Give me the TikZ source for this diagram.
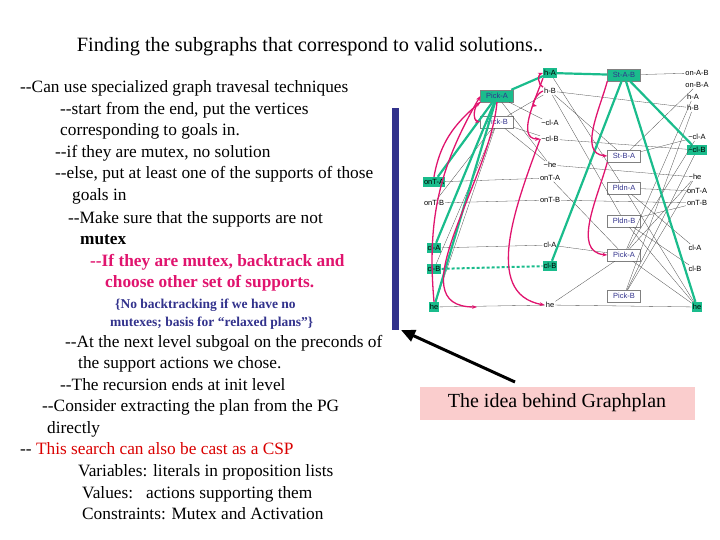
\documentclass[tikz,border=0pt]{standalone}
\usepackage{fontspec}
\setmainfont{Liberation Serif}
\newfontfamily\gsans{Liberation Sans}
\usetikzlibrary{arrows.meta,calc}
\definecolor{tgreen}{RGB}{26,188,140}
\definecolor{mag}{RGB}{224,20,110}
\definecolor{navy}{RGB}{50,50,140}
\definecolor{pinkbg}{RGB}{250,205,205}
\newcommand{\dd}{-{}-}
\tikzset{
  txt/.style={anchor=base west, inner sep=0pt, font=\fontsize{17.3}{19}\selectfont},
  btxt/.style={txt, font=\fontsize{17.3}{19}\selectfont\bfseries},
  lit/.style={font=\gsans\fontsize{7.5}{8}\selectfont, inner sep=1pt},
  glit/.style={lit, fill=tgreen, minimum height=10pt},
  act/.style={lit, draw=gray, text=navy, minimum width=33pt, minimum height=12pt},
  gact/.style={act, fill=tgreen},
  thin/.style={black!70, line width=0.3pt},
  sup/.style={tgreen, line width=2.2pt},
  mx/.style={mag, line width=1.3pt, -{Stealth[length=5pt]}},
}
\begin{document}
\begin{tikzpicture}[x=1pt,y=-1pt]
  \useasboundingbox (0,0) rectangle (720,540);
  % title
  \node[font=\fontsize{20.3}{22}\selectfont] (title) at (310,47) {Finding the subgraphs that correspond to valid solutions..};
  % left text
  \node[txt] (t1) at (20,93) {\dd Can use specialized graph travesal techniques};
  \node[txt] (t2) at (60,115) {\dd start from the end, put the vertices};
  \node[txt] (t3) at (60,136) {corresponding to goals in.};
  \node[txt] (t4) at (55,158) {\dd if they are mutex, no solution};
  \node[txt] (t5) at (55,179) {\dd else, put at least one of the supports of those};
  \node[txt] (t6) at (72,201) {goals in};
  \node[txt] (t7) at (68,223) {\dd Make sure that the supports are not};
  \node[btxt] (t8) at (80,244) {mutex};
  \node[btxt, text=mag] (t9) at (90,266) {\dd If they are mutex, backtrack and};
  \node[btxt, text=mag] (t10) at (105,287) {choose other set of supports.};
  \node[txt, text=navy, font=\fontsize{13.5}{14}\selectfont\bfseries] (t11) at (115,308) {\{No backtracking if we have no};
  \node[txt, text=navy, font=\fontsize{13.5}{14}\selectfont\bfseries] (t12) at (110,326) {mutexes; basis for “relaxed plans”\}};
  \node[txt] (t13) at (65,347) {\dd At the next level subgoal on the preconds of};
  \node[txt] (t14) at (78,368) {the support actions we chose.};
  \node[txt] (t15) at (60,390) {\dd The recursion ends at init level};
  \node[txt] (t16) at (42,411) {\dd Consider extracting the plan from the PG};
  \node[txt] (t17) at (47,433) {directly};
  \node[txt] (t18) at (20,454) {\dd{} \textcolor{red!85!black}{This search can also be cast as a CSP}};
  \node[txt] (t19) at (78,476) {Variables: literals in proposition lists};
  \node[txt] (t20) at (82,498) {Values:\ \ \ actions supporting them};
  \node[txt] (t21) at (82,519) {Constraints: Mutex and Activation};
  % bar and caption
  \fill[navy] (392,108) rectangle (399,330);
  \node[fill=pinkbg, font=\fontsize{20}{22}\selectfont, minimum width=275pt, minimum height=33pt] (idea) at (557,403) {The idea behind Graphplan};
  \coordinate (tip) at (401,330);
  \coordinate (tail) at (515,382);
  \draw[line width=3pt, -{Triangle[length=14pt,width=12pt]}] (tail) -- (tip);

  % level 0 literals
  \node[glit] (a0) at (434,182) {onT-A};
  \node[lit]  (b0) at (434,203) {onT-B};
  \node[glit] (c0) at (434,248) {cl-A};
  \node[glit] (d0) at (434,269) {cl-B};
  \node[glit] (e0) at (434,307) {he};
  % level 0 actions
  \node[gact] (pa1) at (497,96) {Pick-A};
  \node[act]  (pb1) at (497,122) {Pick-B};
  % level 1 literals
  \node[glit] (ha1) at (550,73) {h-A};
  \node[lit]  (hb1) at (550,91) {h-B};
  \node[lit]  (nca1) at (550,123) {\textasciitilde cl-A};
  \node[lit]  (ncb1) at (550,139) {\textasciitilde cl-B};
  \node[lit]  (nhe1) at (550,165) {\textasciitilde he};
  \node[lit]  (ota1) at (550,178) {onT-A};
  \node[lit]  (otb1) at (550,200) {onT-B};
  \node[lit]  (ca1) at (550,245) {cl-A};
  \node[glit] (cb1) at (550,266) {cl-B};
  \node[lit]  (he1) at (550,305) {he};
  % level 1 actions
  \node[gact] (sab) at (624,75) {St-A-B};
  \node[act]  (sba) at (624,156) {St-B-A};
  \node[act]  (pda) at (624,188) {Pldn-A};
  \node[act]  (pdb) at (624,221) {Pldn-B};
  \node[act]  (pa2) at (624,255) {Pick-A};
  \node[act]  (pb2) at (624,296) {Pick-B};
  % level 2 literals
  \node[lit]  (oab) at (697,73) {on-A-B};
  \node[lit]  (oba) at (697,85) {on-B-A};
  \node[lit]  (ha2) at (693,97) {h-A};
  \node[lit]  (hb2) at (693,108) {h-B};
  \node[lit]  (nca2) at (697,137) {\textasciitilde cl-A};
  \node[glit] (ncb2) at (697,150) {\textasciitilde cl-B};
  \node[lit]  (nhe2) at (695,177) {\textasciitilde he};
  \node[lit]  (ota2) at (697,191) {onT-A};
  \node[lit]  (otb2) at (697,203) {onT-B};
  \node[lit]  (ca2) at (695,248) {cl-A};
  \node[lit]  (cb2) at (695,269) {cl-B};
  \node[glit] (he2) at (697,307) {he};

  % thin edges
  \foreach \u/\v in {a0/ota1, b0/otb1, c0/ca1, e0/he1, b0/pb1, d0/pb1, e0/pb1,
      pa1/nca1, pa1/nhe1, pb1/hb1, pb1/ncb1, pb1/nhe1,
      ha1/pda, hb1/pdb, hb1/sba, ota1/pa2, ca1/pa2, he1/pa2, ncb1/ncb2, nhe1/nhe2, otb1/otb2, he1/he2,
      sab/oab, sba/oba, sba/nca2, pda/ota2, pda/ca2, pdb/otb2, pdb/cb2, pa2/ha2, pa2/nca2, pa2/nhe2,
      pb2/hb2, pb2/ncb2, pb2/nhe2, pa2/he2, pdb/he2, pda/he2, hb1/hb2}
    \draw[thin] (\u) -- (\v);
  % support edges
  \foreach \u/\v in {a0/pa1, c0/pa1, e0/pa1, pa1/ha1, ha1/sab, cb1/sab, sab/he2, sab/ncb2}
    \draw[sup] (\u) -- (\v);
  \draw[tgreen, line width=2pt, dash pattern=on 3pt off 2pt] (d0) -- (cb1);
  % mutex arcs
  \coordinate (m0) at (477,307);
  \coordinate (m1) at (537,106);
  \draw[mx] (e0.north) to[out=95, in=-120] (pa1.west);
  \draw[mx] (a0.north) to[out=80, in=-140] (pa1.south west);
  \draw[mx] (pa1.south west) to[out=-160, in=170] (pb1.west);
  \draw[mx] (pa1.south) to[out=-95, in=180] (m0);
  \draw[mx] (ncb1.west) to[out=-110, in=170] (he1.west);
  \draw[mx] (ha1.south west) to[out=-110, in=180] (ncb1.west);
  \draw[mx] (hb1.west) to[out=-160, in=170] (m1);
  \draw[mx] (hb1.north west) to[out=160, in=-160] (ha1.west);
  \draw[mx] (sab.south west) to[out=-105, in=175] (sba.west);
  \draw[mx] (sba.south west) to[out=-105, in=175] (pa2.west);
\end{tikzpicture}
\end{document}
